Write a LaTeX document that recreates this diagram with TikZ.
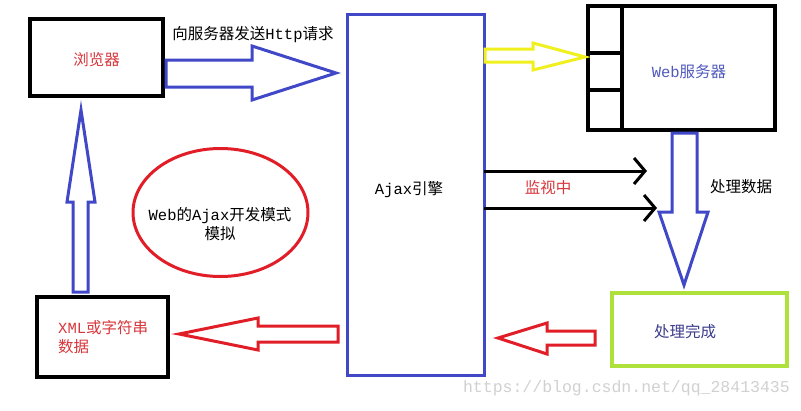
\documentclass[tikz,border=0pt]{standalone}
\usepackage{fontspec}
\setmainfont{Noto Sans CJK SC}
\newfontfamily\latf{Liberation Mono}
\newfontfamily\wmfont{Liberation Mono}
\usetikzlibrary{arrows.meta,shapes.geometric}
\definecolor{bblue}{RGB}{64,72,200}
\definecolor{rred}{RGB}{225,30,40}
\definecolor{yyel}{RGB}{240,240,30}
\definecolor{ggreen}{RGB}{175,225,60}
\definecolor{tred}{RGB}{215,55,60}
\definecolor{tblue}{RGB}{80,90,190}
\definecolor{tdblue}{RGB}{60,60,140}
\tikzset{
  blkbox/.style={draw=black,line width=3.5pt,rectangle,inner sep=0pt,outer sep=0pt},
  bluebox/.style={draw=bblue,line width=3pt,rectangle,inner sep=0pt,outer sep=0pt},
  greenbox/.style={draw=ggreen,line width=3.5pt,rectangle,inner sep=0pt,outer sep=0pt},
  lbl/.style={font=\fontsize{15.5}{19}\selectfont,inner sep=0pt},
  barrow/.style={line width=3pt,line join=miter},
  thinarrow/.style={draw=black,line width=3pt,-{Straight Barb[length=11pt,width=26pt]}},
}
\begin{document}
\begin{tikzpicture}[x=1pt,y=-1pt]
\useasboundingbox (0,0) rectangle (801,410);
\fill[white] (0,0) rectangle (801,410);
% boxes
\node[blkbox,minimum width=133pt,minimum height=77pt] (browser) at (96.5,57.5) {};
\node[lbl,text=tred] (browserText) at (96.5,60) {浏览器};
\node[bluebox,minimum width=137pt,minimum height=361pt] (ajax) at (415.5,194.5) {};
\node[lbl] (ajaxText) at (409,190) {{\latf Ajax}引擎};
\node[blkbox,minimum width=187pt,minimum height=124pt] (server) at (681.5,68) {};
\draw[black,line width=3.5pt] (622,6) -- (622,130);
\draw[black,line width=3.5pt] (588,53) -- (622,53);
\draw[black,line width=3.5pt] (588,90) -- (622,90);
\node[lbl,text=tblue] (serverText) at (689,72) {{\latf Web}服务器};
\node[greenbox,minimum width=175pt,minimum height=73pt] (done) at (699.5,329.5) {};
\node[lbl,text=tdblue] (doneText) at (685,332) {处理完成};
\node[blkbox,minimum width=131pt,minimum height=80pt] (xml) at (102.5,337) {};
\node[lbl,text=tred,align=left,anchor=west] (xmlText) at (58,337) {{\latf XML}或字符串\\数据};
\node[draw=rred,line width=3pt,ellipse,minimum width=175pt,minimum height=128pt,inner sep=0pt] (mode) at (220.5,212.5) {};
\node[lbl,align=center] (modeText) at (220,224) {{\latf Web}的{\latf Ajax}开发模式\\模拟};
% labels
\node[lbl] (httpText) at (253,35) {向服务器发送{\latf Http}请求};
\node[lbl,text=tred] (monText) at (548,188) {监视中};
\node[lbl] (procText) at (741,187) {处理数据};
% block arrows
\draw[barrow,bblue] (166,60) -- (252,60) -- (252,46) -- (336,73) -- (252,100) -- (252,87) -- (166,87) -- cycle;
\draw[barrow,yyel] (485,49) -- (533,49) -- (533,43) -- (585,57) -- (533,70) -- (533,62) -- (485,62) -- cycle;
\draw[barrow,bblue] (672,133) -- (697,133) -- (697,212) -- (708,212) -- (684,285) -- (659,212) -- (672,212) -- cycle;
\draw[barrow,bblue] (73,292) -- (88,292) -- (88,202) -- (95,202) -- (81,110) -- (67,202) -- (73,202) -- cycle;
\draw[barrow,rred] (338,326) -- (258,326) -- (258,318) -- (179,334) -- (258,350) -- (258,342) -- (338,342) -- cycle;
\draw[barrow,rred] (595,331) -- (547,331) -- (547,323) -- (498,338) -- (547,354) -- (547,345) -- (595,345) -- cycle;
% thin arrows
\coordinate (m1) at (647,171);
\coordinate (m2) at (657,208);
\draw[thinarrow] (m1 -| ajax.east) -- (m1);
\draw[thinarrow] (m2 -| ajax.east) -- (m2);
% watermark
\node[font=\wmfont\fontsize{16.5}{18}\selectfont,text=black!18,anchor=east,inner sep=0pt] (wm) at (790,388) {https://blog.csdn.net/qq\_28413435};
\end{tikzpicture}
\end{document}
